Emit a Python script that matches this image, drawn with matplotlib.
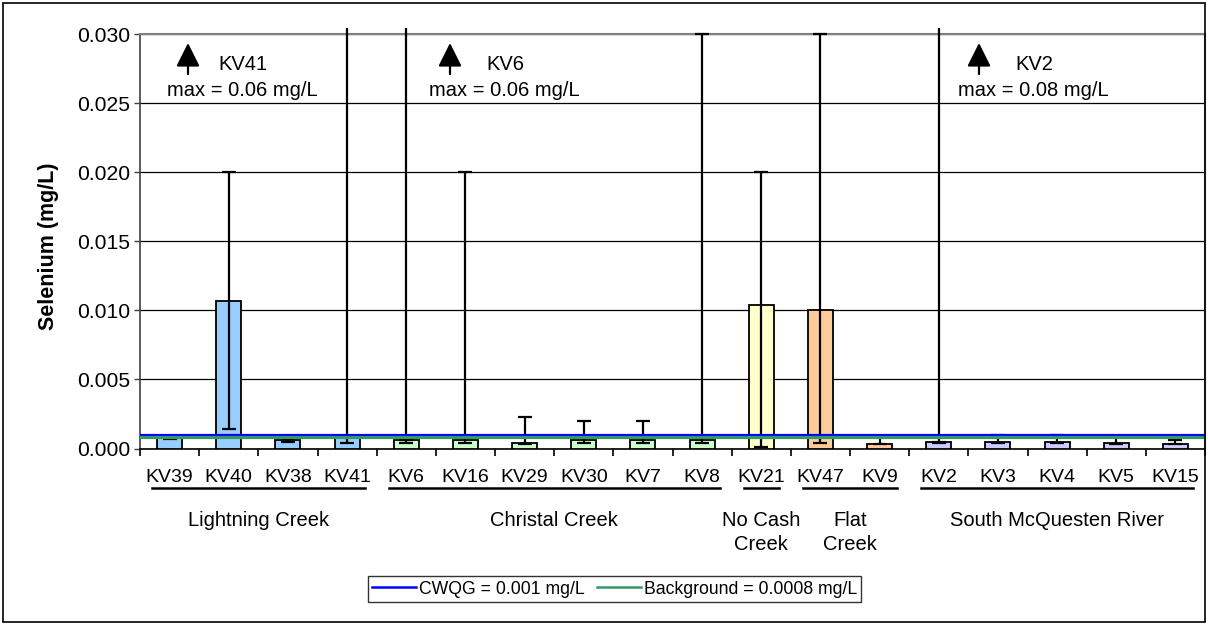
import matplotlib
matplotlib.use("Agg")
import matplotlib.pyplot as plt
from matplotlib.patches import Rectangle
from matplotlib.lines import Line2D
from matplotlib.transforms import blended_transform_factory
import numpy as np

plt.rcParams['font.family'] = ['Liberation Sans', 'DejaVu Sans']

# ---------------- data ----------------
stations = ["KV39", "KV40", "KV38", "KV41", "KV6", "KV16", "KV29", "KV30", "KV7",
            "KV8", "KV21", "KV47", "KV9", "KV2", "KV3", "KV4", "KV5", "KV15"]
means = [0.0008, 0.0107, 0.0006, 0.0008, 0.0006, 0.0006, 0.0004, 0.0006, 0.0006,
         0.0006, 0.0104, 0.0100, 0.0003, 0.0005, 0.0005, 0.0005, 0.0004, 0.0003]
mins = [0.0007, 0.0014, 0.0005, 0.0004, 0.0004, 0.0004, 0.0003, 0.0004, 0.0004,
        0.0004, 0.0001, 0.0004, 0.0003, 0.0004, 0.0004, 0.0004, 0.0003, 0.0003]
maxs = [0.0009, 0.020, 0.0007, 0.06, 0.06, 0.020, 0.0023, 0.0020, 0.0020,
        0.030, 0.020, 0.030, 0.0009, 0.08, 0.0010, 0.0010, 0.0009, 0.0006]
group_names = ["Lightning Creek", "Christal Creek", "No Cash\nCreek", "Flat\nCreek",
               "South McQuesten River"]
group_sizes = [4, 6, 1, 2, 5]
group_colors = ["#99CCFF", "#CCFFCC", "#FFFFCC", "#FFCC99", "#CCCCFF"]
cwqg = 0.001
background = 0.0008
off_scale_names = ["KV41", "KV6", "KV2"]
off_scale_texts = ["max = 0.06 mg/L", "max = 0.06 mg/L", "max = 0.08 mg/L"]
yticks = [0.000, 0.005, 0.010, 0.015, 0.020, 0.025, 0.030]

# annotation layout (figure pixels: arrow x, name offset)
arrow_px = [188, 450, 979]
name_dx = [30, 36, 36]

# ---------------- figure ----------------
W, H = 1208, 625
fig = plt.figure(figsize=(W / 100, H / 100), dpi=100)
ax = fig.add_axes([140 / W, 1 - 448.5 / H, (1205 - 140) / W, (448.5 - 34) / H])

n = len(stations)
x = np.arange(n)
colors = []
for c, s in zip(group_colors, group_sizes):
    colors += [c] * s

ymax = 0.030
ax.set_xlim(-0.5, n - 0.5)
ax.set_ylim(0, ymax)

ax.bar(x, means, width=0.42, color=colors, edgecolor='black', linewidth=1.3, zorder=3)

means_a = np.array(means)
mins_a = np.array(mins)
maxs_a = np.array(maxs)
in_range = maxs_a <= ymax + 1e-9
ax.errorbar(x[in_range], means_a[in_range],
            yerr=[means_a[in_range] - mins_a[in_range], maxs_a[in_range] - means_a[in_range]],
            fmt='none', ecolor='black', elinewidth=1.6, capsize=5, capthick=1.6, zorder=4,
            clip_on=False)
out = ~in_range
ax.errorbar(x[out], means_a[out], yerr=[means_a[out] - mins_a[out], np.zeros(out.sum())],
            fmt='none', ecolor='black', elinewidth=1.6, capsize=5, capthick=1.6, zorder=4)
ax.vlines(x[out], means_a[out], ymax * 1.015, colors='black', linewidth=1.6, zorder=4,
          clip_on=False)

ax.axhline(cwqg, color='#0000FF', linewidth=2.3, zorder=5)
ax.axhline(background, color='#339966', linewidth=2.3, zorder=5)

# grid and spines
ax.set_yticks(yticks)
ax.set_yticklabels([f"{v:.3f}" for v in yticks], fontsize=15.2)
ax.yaxis.grid(True, color='black', linewidth=0.9, zorder=0)
ax.set_axisbelow(True)
for side in ['top', 'right']:
    ax.spines[side].set_color('#808080')
    ax.spines[side].set_linewidth(1.5)
ax.spines['left'].set_color('#404040')
ax.spines['left'].set_linewidth(1.2)
ax.spines['bottom'].set_color('black')
ax.spines['bottom'].set_linewidth(1.2)
ax.tick_params(axis='y', length=4, width=1, color='#404040', pad=3)

ax.set_xticks(x)
ax.set_xticklabels(stations, fontsize=14)
ax.set_xticks(np.arange(n + 1) - 0.5, minor=True)
ax.tick_params(axis='x', which='major', length=0, pad=15)
ax.tick_params(axis='x', which='minor', length=5, width=1.2, color='black')

fig.text(49 / W, 1 - 246 / H, "Selenium (mg/L)", rotation=90, ha='center', va='center',
         fontsize=15.5, fontweight='bold')

# group underlines and labels
trans = blended_transform_factory(ax.transData, fig.transFigure)
start = 0
for name, size in zip(group_names, group_sizes):
    i0, i1 = start, start + size - 1
    ax.add_line(Line2D([i0 - 0.3, i1 + 0.3], [1 - 488 / H] * 2, transform=trans,
                       color='black', linewidth=1.8, clip_on=False))
    ax.text((i0 + i1) / 2, 1 - 511 / H, name, transform=trans, ha='center', va='top',
            fontsize=14.5, linespacing=1.35)
    start += size

# off-scale annotations
for name, txt, px, dx in zip(off_scale_names, off_scale_texts, arrow_px, name_dx):
    ax.annotate('', xy=(px, H - 43), xytext=(px, H - 74),
                xycoords='figure pixels', textcoords='figure pixels',
                arrowprops=dict(arrowstyle='-|>,head_length=0.72,head_width=0.36',
                                mutation_scale=20, color='black', lw=1.6,
                                shrinkA=0, shrinkB=0))
    fig.text((px + dx) / W, 1 - 65 / H, name, ha='left', va='center', fontsize=14.5)
    fig.text((px + 54) / W, 1 - 91 / H, txt, ha='center', va='center', fontsize=14.5)

# legend
handles = [Line2D([], [], color='#0000FF', linewidth=1.8),
           Line2D([], [], color='#339966', linewidth=1.8)]
leg = fig.legend(handles, ["CWQG = 0.001 mg/L", "Background = 0.0008 mg/L"],
                 loc='center', bbox_to_anchor=(614.5 / W, 1 - 589 / H), ncol=2,
                 fontsize=12.7, frameon=True, fancybox=False, edgecolor='black',
                 handlelength=2.5, handletextpad=0.15, columnspacing=0.7,
                 borderpad=0.25, borderaxespad=0)
leg.get_frame().set_linewidth(1.0)

# outer figure border
fig.patches.append(Rectangle((3 / W, 3 / H), (W - 6) / W, (H - 6) / H,
                             transform=fig.transFigure, fill=False,
                             edgecolor='black', linewidth=1.2))

fig.savefig("out.png", dpi=100)
